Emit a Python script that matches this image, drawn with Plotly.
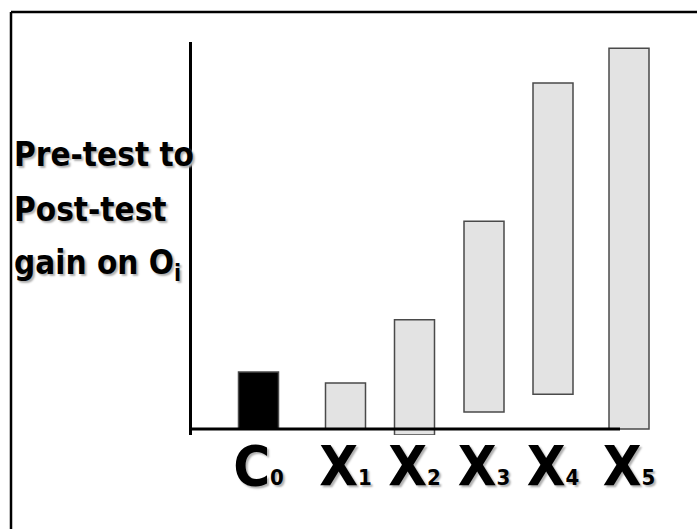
import plotly.graph_objects as go

# ---- data ----
categories = ["C0", "X1", "X2", "X3", "X4", "X5"]
tick_main = ["C", "X", "X", "X", "X", "X"]
tick_sub = ["0", "1", "2", "3", "4", "5"]
x_pos = [66.5, 153.5, 222.5, 292, 361, 437]          # category positions along the axis
gain_low = [0, 0, -1.55, 4.4, 9.0, 0]                # bottom of each gain bar
gain_high = [14.7, 11.9, 28.2, 53.7, 89.4, 98.4]     # top of each gain bar
bar_fill = ["#000000", "#e3e3e3", "#e3e3e3", "#e3e3e3", "#e3e3e3", "#e3e3e3"]
ylabel_lines = ["Pre-test to", "Post-test", "gain on O<sub>i</sub>"]

FONT = "DejaVu Sans Condensed, sans-serif"
SHADOW = "2px 2px 2px #b0b0b0"

heights = [h - l for h, l in zip(gain_high, gain_low)]
ticktext = [f"{m}<span style='font-size:22px'>{s}</span>" for m, s in zip(tick_main, tick_sub)]

fig = go.Figure()
fig.add_trace(go.Bar(
    x=x_pos, y=heights, base=gain_low, width=40,
    marker=dict(color=bar_fill, line=dict(color="#4a4a4a", width=1.5)),
    hoverinfo="skip", showlegend=False,
))

W, H = 697, 529
L, T = 192, 42
R = W - 660
B = H - 435
pw = W - L - R
ph = H - T - B

def px_x(x):  # screen x -> paper
    return (x - L) / pw

def px_y(y):  # screen y -> paper
    return (T + ph - y) / ph

fig.update_layout(
    width=W, height=H,
    margin=dict(l=L, r=R, t=T, b=B, pad=0),
    paper_bgcolor="white", plot_bgcolor="white",
    xaxis=dict(range=[0, pw], showgrid=False, zeroline=False, showline=False,
               tickvals=x_pos, ticktext=ticktext, ticks="",
               tickfont=dict(family=FONT, size=56, color="black", weight="bold", shadow=SHADOW),
               ticklabelstandoff=-7, fixedrange=True),
    yaxis=dict(range=[-1.55, 100], showgrid=False, zeroline=False, showline=True,
               linecolor="black", linewidth=3, showticklabels=False, ticks="",
               fixedrange=True),
)

# x axis line (shorter than plot width, as in original)
fig.add_shape(type="line", xref="paper", yref="y", x0=0, x1=px_x(620), y0=0, y1=0,
              line=dict(color="black", width=3))

# page frame (only top and left edges visible)
fig.add_shape(type="line", xref="paper", yref="paper",
              x0=px_x(11), x1=px_x(700), y0=px_y(12), y1=px_y(12),
              line=dict(color="black", width=2.5), layer="below")
fig.add_shape(type="line", xref="paper", yref="paper",
              x0=px_x(11), x1=px_x(11), y0=px_y(12), y1=px_y(532),
              line=dict(color="black", width=2.5), layer="below")

# y title lines
for i, txt in enumerate(ylabel_lines):
    yc = 154 + 55 * i
    fig.add_annotation(text=txt, xref="paper", yref="paper",
                       x=px_x(12), y=px_y(yc),
                       xanchor="left", yanchor="middle", showarrow=False,
                       font=dict(family=FONT, size=33, color="black", weight="bold", shadow=SHADOW))

fig.write_html("out.html", config={"displayModeBar": False},
               post_script="document.body.style.margin='0';document.body.style.overflow='hidden';")
